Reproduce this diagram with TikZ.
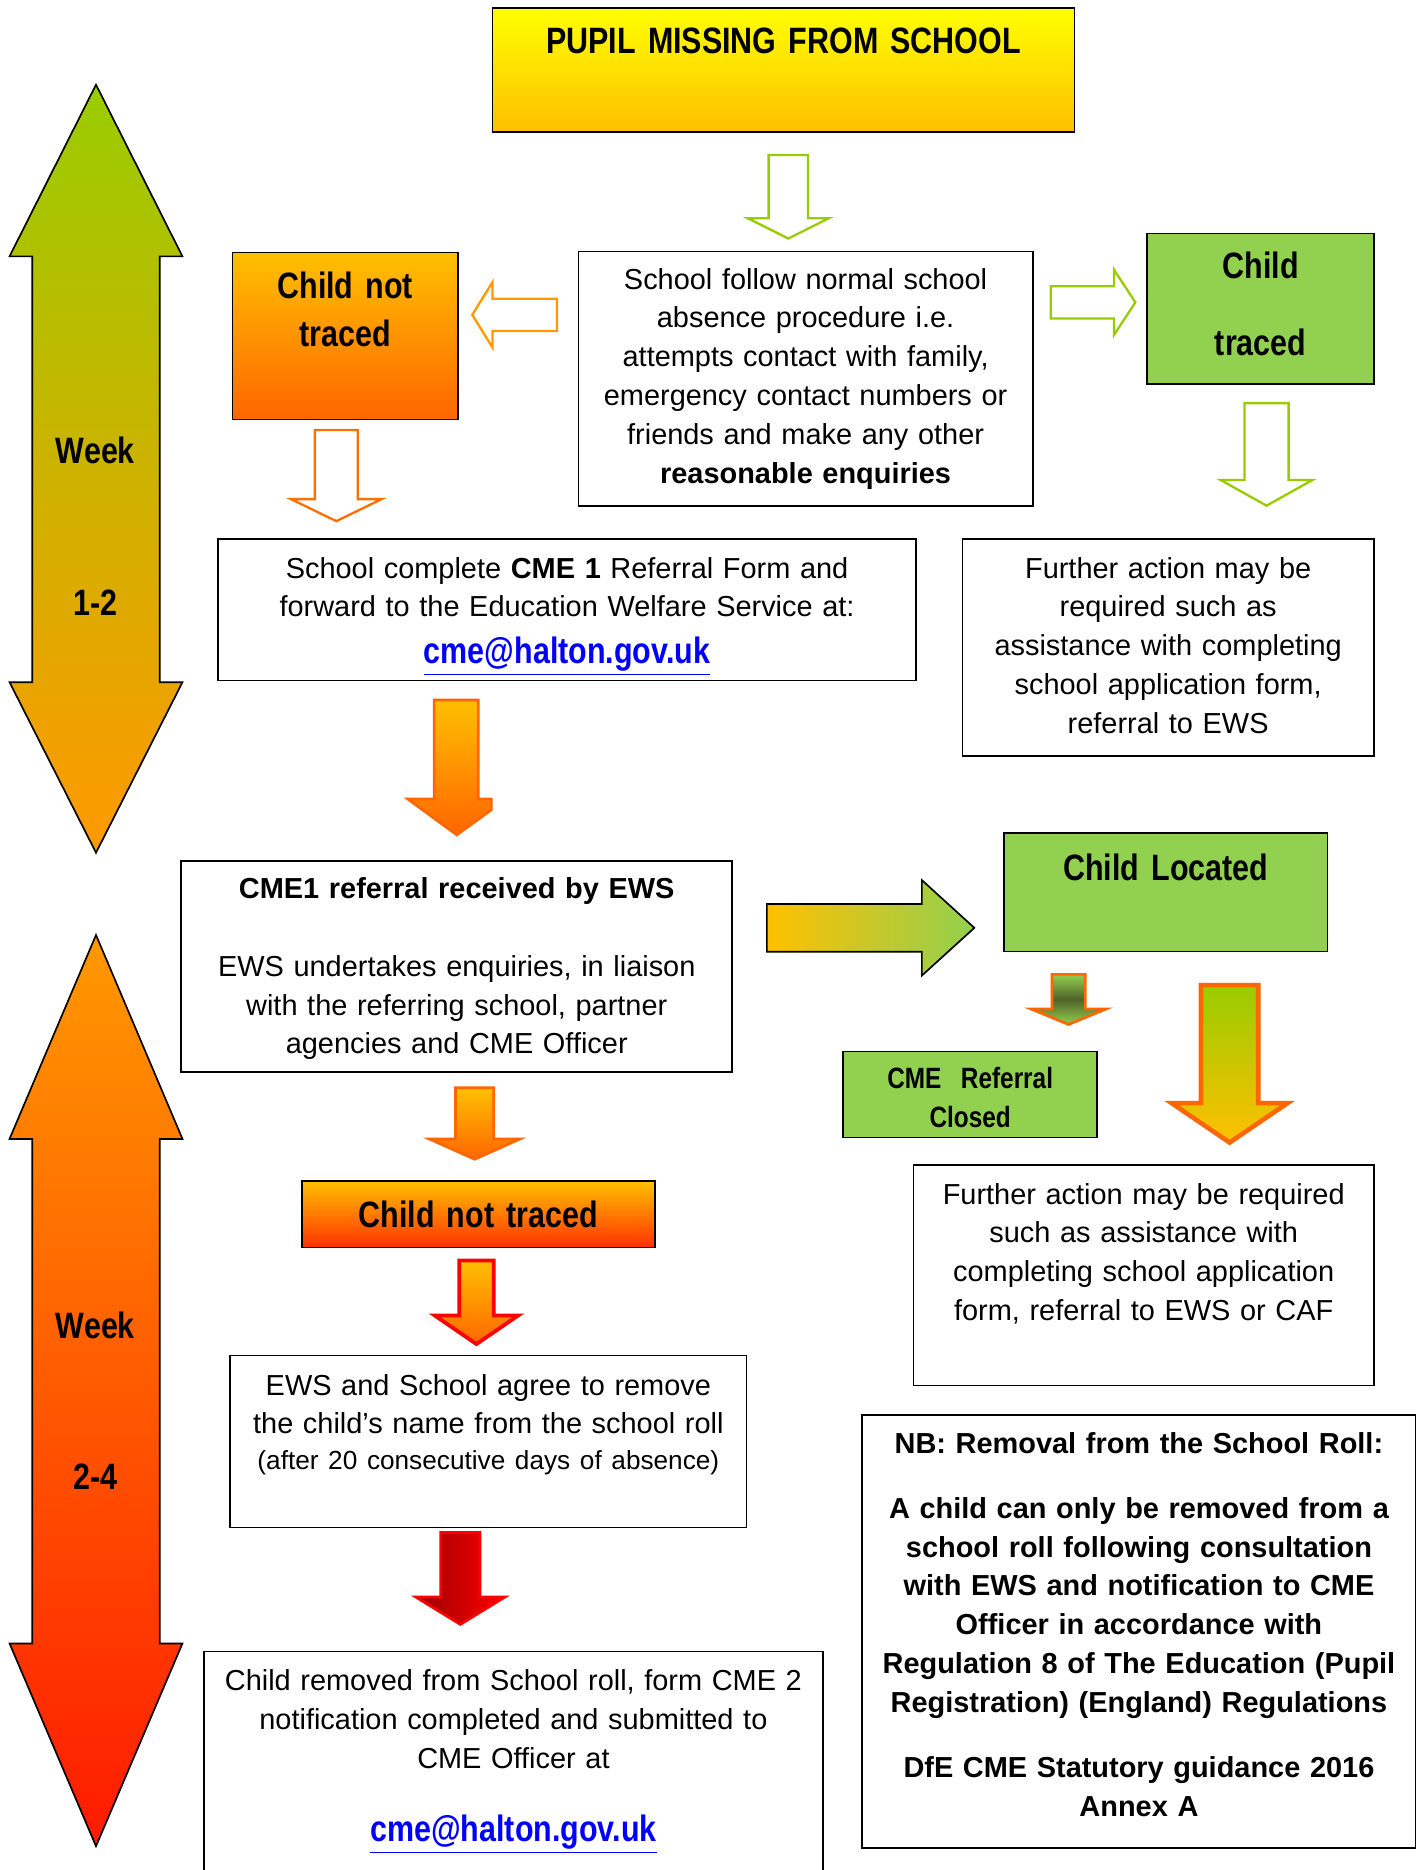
\documentclass[tikz,border=0pt]{standalone}
\usepackage{fontspec}
\setmainfont{Liberation Sans}
\newfontfamily\narrowfont{Liberation Sans}[FakeStretch=0.83, WordSpace=0.75]
\usepackage{tikz}
\usetikzlibrary{positioning}
\usepackage{xcolor}

\definecolor{cmeLime}{HTML}{99CC00}
\definecolor{cmeGreen}{HTML}{92D050}
\definecolor{cmeYellow}{HTML}{FFFF00}
\definecolor{cmeGold}{HTML}{FFC000}
\definecolor{cmeOrange}{HTML}{FF9900}
\definecolor{cmeDeep}{HTML}{FF6600}
\definecolor{cmeScarlet}{HTML}{FF3300}
\definecolor{cmeRed}{HTML}{FF1A00}
\definecolor{cmeMaroon}{HTML}{990000}
\definecolor{cmeOlive}{HTML}{4F6228}
\definecolor{cmeLink}{HTML}{0000FF}

\newcommand{\bodyfont}{\fontsize{13.8}{18.5}\selectfont}
\newcommand{\headfont}{\narrowfont\bfseries\fontsize{17.5}{22.7}\selectfont}
\newcommand{\cmemail}{{\color{cmeLink}\narrowfont\bfseries\fontsize{17.5}{21}\selectfont\underline{cme@halton.gov.uk}}}

% block arrows: style, x, top, head base, tip, half shaft, half head
\newcommand{\dropblock}[7]{%
	\draw[#1] (#2-#6,#3) -- (#2+#6,#3) -- (#2+#6,#4) -- (#2+#7,#4) -- (#2,#5)
		-- (#2-#7,#4) -- (#2-#6,#4) -- cycle;}
% style, y, tail, head base, tip, half shaft, half head
\newcommand{\sideblock}[7]{%
	\draw[#1] (#3,#2-#6) -- (#4,#2-#6) -- (#4,#2-#7) -- (#5,#2) -- (#4,#2+#7)
		-- (#4,#2+#6) -- (#3,#2+#6) -- cycle;}

\begin{document}
\begin{tikzpicture}[x=0.2mm, y=-0.2mm,
		box/.style={draw=black, line width=0.8pt, fill=white, inner sep=0pt, align=center, font=\bodyfont},
		headbox/.style={box, font=\headfont},
		greenbox/.style={headbox, fill=cmeGreen},
		weeklabel/.style={font=\headfont, inner sep=0pt},
		weekarrow/.style={draw=black, line width=0.8pt},
		hollow/.style={fill=white, line width=1.1pt},
		fullblock/.style={line width=1.3pt}]
				\useasboundingbox (0,0) rectangle (1194,1568);
				% week arrows
				\draw[weekarrow, top color=cmeLime, bottom color=cmeOrange] (80.5,71) -- (153,215) -- (134,215) -- (134,572) -- (153,572) -- (80.5,715) -- (8,572) -- (27,572) -- (27,215) -- (8,215) -- cycle;
				\draw[weekarrow, top color=cmeOrange, bottom color=cmeRed] (80.5,784) -- (153,955) -- (134,955) -- (134,1378) -- (153,1378) -- (80.5,1548) -- (8,1378) -- (27,1378) -- (27,955) -- (8,955) -- cycle;
				\node[weeklabel] (wk1) at (80,378) {Week};
				\node[weeklabel] (wk1n) at (80,505) {1-2};
				\node[weeklabel] (wk2) at (80,1111) {Week};
				\node[weeklabel] (wk2n) at (80,1238) {2-4};
				% boxes
				\node[headbox, top color=cmeYellow, bottom color=cmeGold, anchor=north, text width=97.6mm, text height=7.6mm, text depth=13.2mm] (pupil) at (657,6) {PUPIL MISSING FROM SCHOOL};
				\node[box, minimum width=76.2mm, minimum height=42.6mm, text width=74mm] (proc) at (675.5,317.5) {School follow normal school\\absence procedure i.e.\\attempts contact with family,\\emergency contact numbers or\\friends and make any other\\\textbf{reasonable enquiries}};
				\node[headbox, top color=cmeGold, bottom color=cmeDeep, anchor=north, text width=37.8mm, text height=7.8mm, text depth=20.2mm] (lost) at (289.5,211) {Child not\\traced};
				\node[greenbox, anchor=north, text width=38mm, text height=7.6mm, text depth=17.6mm] (found) at (1057,195) {Child\\[14pt]traced};
				\node[box, anchor=north, text width=117mm, text height=6.6mm, text depth=17.2mm] (form) at (475.5,451) {School complete \textbf{CME 1} Referral Form and\\forward to the Education Welfare Service at:\\[4pt]\cmemail};
				\node[box, anchor=north, text width=69mm, text height=6.6mm, text depth=29.8mm] (help) at (979.5,451) {Further action may be\\required such as\\assistance with completing\\school application form,\\referral to EWS};
				\node[box, anchor=north, text width=92.4mm, text height=6.4mm, text depth=29mm] (ews) at (383,721) {\textbf{CME1 referral received by EWS}\\[18.5pt]EWS undertakes enquiries, in liaison\\with the referring school, partner\\agencies and CME Officer};
				\node[greenbox, anchor=north, text width=54.2mm, text height=8mm, text depth=11.8mm] (located) at (977.5,698) {Child Located};
				\node[greenbox, font=\narrowfont\bfseries\fontsize{14}{18.7}\selectfont, anchor=north, text width=42.6mm, text height=6.2mm, text depth=8.2mm] (closed) at (813.5,881) {CME\ \ Referral\\Closed};
				\node[box, anchor=north, text width=77.2mm, text height=6.6mm, text depth=30.4mm] (help2) at (959,976) {Further action may be required\\such as assistance with\\completing school application\\form, referral to EWS or CAF};
				\node[headbox, top color=cmeGold, bottom color=cmeScarlet, minimum width=59.2mm, minimum height=11.2mm, text width=59.2mm] (lost2) at (401,1018) {Child not traced};
				\node[box, anchor=north, text width=86.6mm, text height=6.6mm, text depth=22.2mm] (agree) at (409.5,1136) {EWS and School agree to remove\\the child’s name from the school roll\\[-1.5pt]{\fontsize{12.5}{15}\selectfont(after 20 consecutive days of absence)}};
				\node[box, anchor=north, text width=103.8mm, text height=6.6mm, text depth=34mm] (removed) at (430.5,1384) {Child removed from School roll, form CME 2\\notification completed and submitted to\\CME Officer at\\[16.5pt]\cmemail};
				\node[box, font=\bodyfont\bfseries, anchor=north, text width=92.8mm, text height=6.4mm, text depth=66.2mm] (nb) at (955,1186) {NB: Removal from the School Roll:\\[12.5pt]A child can only be removed from a\\school roll following consultation\\with EWS and notification to CME\\Officer in accordance with\\Regulation 8 of The Education (Pupil\\Registration) (England) Regulations\\[12.5pt]DfE CME Statutory guidance 2016\\Annex A};
				% arrows between boxes
				\dropblock{hollow, draw=cmeLime}{661}{130}{183}{200}{16.5}{34}
				\sideblock{hollow, draw=cmeOrange}{264}{467}{413}{396}{13.5}{27.5}
				\sideblock{hollow, draw=cmeLime}{253.5}{881}{934}{952}{13.5}{27.5}
				\dropblock{hollow, draw=cmeLime}{1062}{338}{402.5}{424}{18.5}{38.5}
				\dropblock{hollow, draw=cmeDeep!80!cmeOrange}{282}{360.5}{418.5}{437}{18}{38}
				\draw[fullblock, draw=cmeDeep, top color=cmeGold, bottom color=cmeDeep] (364,587) -- (401,587) -- (401,670) -- (412,670) -- (412,679) -- (383,700) -- (342,670) -- (364,670) -- cycle;
				\sideblock{draw=black, line width=0.8pt, left color=cmeGold, right color=cmeGreen}{778}{643}{773}{817}{20}{40}
				\dropblock{fullblock, draw=cmeDeep, top color=cmeGreen, bottom color=cmeGreen, middle color=cmeOlive}{896}{817}{846}{859}{14}{31.5}
				\dropblock{draw=cmeDeep, line width=2.2pt, top color=cmeLime, bottom color=cmeGold}{1031}{826}{925}{958}{24}{48.5}
				\dropblock{fullblock, draw=cmeDeep, top color=cmeGold, bottom color=cmeDeep}{398}{912}{955}{972}{16}{38}
				\dropblock{fullblock, draw=red, line width=1.8pt, top color=cmeGold, bottom color=cmeDeep}{399.5}{1057}{1103}{1127}{14.5}{35}
				\dropblock{fullblock, draw=red, left color=cmeMaroon, right color=red}{386}{1285}{1339}{1362}{16.5}{37.5}
			\end{tikzpicture}
\end{document}
